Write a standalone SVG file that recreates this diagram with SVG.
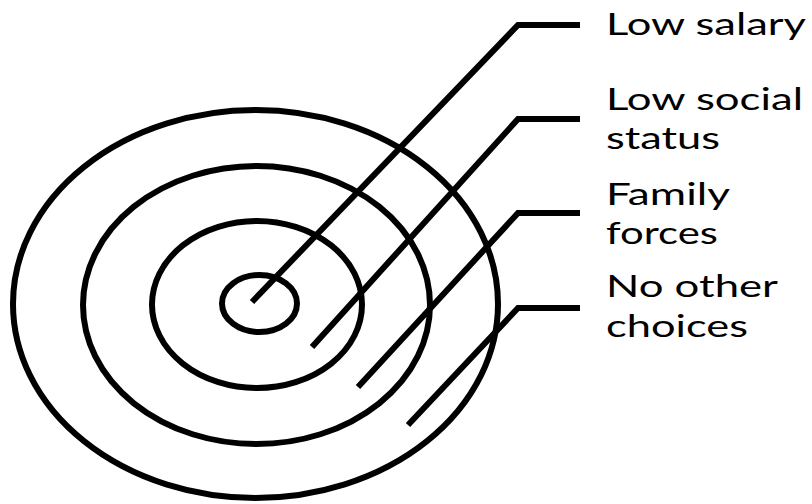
<svg xmlns="http://www.w3.org/2000/svg" width="812" height="504" viewBox="0 0 812 504">
<style>
.ring{fill:none;stroke:#000;stroke-width:6}
.conn{fill:none;stroke:#000;stroke-width:6;stroke-linejoin:miter;stroke-linecap:butt}
.lbl{font-family:"Lato","Liberation Sans",sans-serif;font-size:30px;fill:#000}
</style>
<rect width="812" height="504" fill="#fff"/>
<g id="rings">
<ellipse id="ring-outer" class="ring" cx="255.5" cy="304" rx="242.5" ry="194"/>
<ellipse id="ring-2" class="ring" cx="256.5" cy="305" rx="173.5" ry="139"/>
<ellipse id="ring-3" class="ring" cx="257" cy="304.5" rx="105" ry="83.5"/>
<ellipse id="ring-inner" class="ring" cx="259.5" cy="303.5" rx="37.5" ry="28.5"/>
</g>
<g id="connectors">
<polyline class="conn" points="252,302 518,25 580,25"/>
<polyline class="conn" points="312,347 518,119 580,119"/>
<polyline class="conn" points="358,387 518,213 580,213"/>
<polyline class="conn" points="408,425 518,308 580,308"/>
</g>
<g id="label-low-salary"><text class="lbl" x="606" y="35" textLength="200" lengthAdjust="spacingAndGlyphs">Low salary</text></g>
<g id="label-low-social-status"><text class="lbl" x="606" y="110" textLength="197" lengthAdjust="spacingAndGlyphs">Low social</text><text class="lbl" x="606" y="149" textLength="114" lengthAdjust="spacingAndGlyphs">status</text></g>
<g id="label-family-forces"><text class="lbl" x="606" y="205" textLength="124" lengthAdjust="spacingAndGlyphs">Family</text><text class="lbl" x="606" y="244" textLength="112" lengthAdjust="spacingAndGlyphs">forces</text></g>
<g id="label-no-other-choices"><text class="lbl" x="606" y="297" textLength="172" lengthAdjust="spacingAndGlyphs">No other</text><text class="lbl" x="606" y="337" textLength="142" lengthAdjust="spacingAndGlyphs">choices</text></g>
</svg>
